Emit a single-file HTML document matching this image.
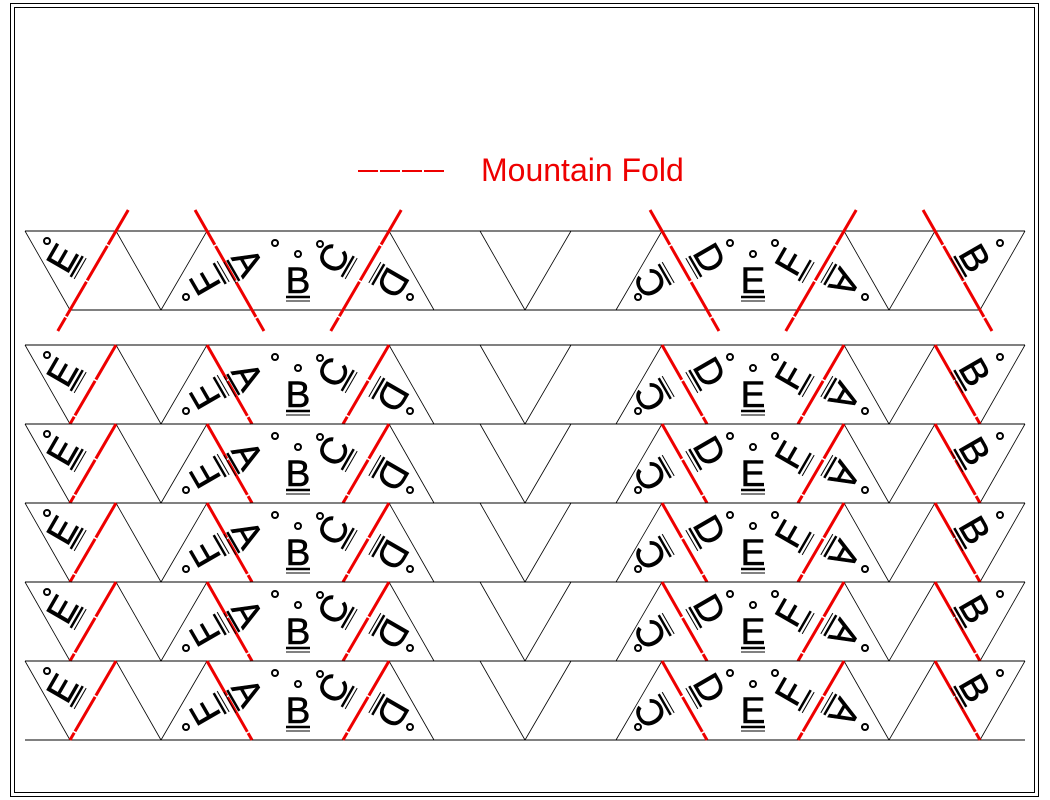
<!DOCTYPE html>
<html><head><meta charset="utf-8"><style>
html,body{margin:0;padding:0;background:#fff;}
svg{display:block;}
text{font-family:"Liberation Sans",sans-serif;}
</style></head><body>
<svg id="s" width="1050" height="800" viewBox="0 0 1050 800" xmlns="http://www.w3.org/2000/svg">
<rect x="10.5" y="3.5" width="1028" height="793" fill="none" stroke="#000" stroke-width="1"/>
<rect x="14.5" y="7.5" width="1020" height="785" fill="none" stroke="#000" stroke-width="1"/>
<line x1="358" y1="171" x2="446" y2="171" stroke="#e00" stroke-width="2" stroke-dasharray="20 2"/>
<text x="481" y="181" font-size="32" fill="#e00">Mountain Fold</text>
<g id="rows"></g>
</svg>
<script>
var g=document.getElementById('rows'),h='';
var tops=[231,345,424,503,582,661];
var blk=[[25,70],[116,161],[207,161],[389,434],[480,525],[571,525],[662,616],[844,889],[935,889],[1025,980]];
var red=[[116,70],[207,252],[389,343],[662,707],[844,798],[935,980]];
var labs=[['E',62,27,-60,47,10],['F',205,51,-120,186,66],['A',248,31,60,275,12],['B',298,49,0,298,23],['C',333,27,-60,320,13],['D',393,52,120,410,66],
['C',650,52,-120,638,66],['D',710,27,60,730,12],['E',753,49,0,753,23],['F',790,31,-60,775,12],['A',845,52,120,865,66],['B',975,27,60,1000,12]];
tops.forEach(function(t,i){
 var b=t+79;
 h+='<line x1="25" y1="'+t+'" x2="1025" y2="'+t+'" stroke="#000"/>';
 if(i==0) h+='<line x1="70" y1="'+b+'" x2="980" y2="'+b+'" stroke="#000"/>';
 if(i==5) h+='<line x1="25" y1="'+b+'" x2="1025" y2="'+b+'" stroke="#000"/>';
 blk.forEach(function(l){h+='<line x1="'+l[0]+'" y1="'+t+'" x2="'+l[1]+'" y2="'+b+'" stroke="#000" stroke-width="0.8"/>';});
 red.forEach(function(l){
  var x1=l[0],x2=l[1],y1=t,y2=b;
  if(i==0){var dx=(x2-x1)*21/79;x1-=dx;x2+=dx;y1-=21;y2+=21;}
  h+='<line x1="'+x1+'" y1="'+y1+'" x2="'+x2+'" y2="'+y2+'" stroke="#e00" stroke-width="3" stroke-dasharray="40 1.5"/>';
 });
 labs.forEach(function(L){
  var cx=L[1],cy=t+L[2];
  h+='<g transform="translate('+cx+','+cy+') rotate('+L[3]+')"><text x="0" y="13" font-size="37" text-anchor="middle" stroke="#000" stroke-width="0.6">'+L[0]+'</text>'+
   '<line x1="-12" y1="17" x2="12" y2="17" stroke="#000" stroke-width="2.5"/><line x1="-12" y1="21" x2="12" y2="21" stroke="#000" stroke-width="1"/></g>';
  h+='<circle cx="'+L[4]+'" cy="'+(t+L[5])+'" r="3" fill="none" stroke="#000" stroke-width="2"/>';
 });
});
g.innerHTML=h;
</script>
</body></html>
